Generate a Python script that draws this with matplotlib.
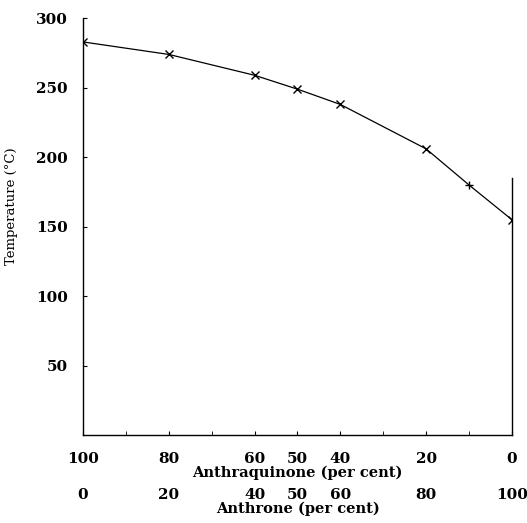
import numpy as np
import matplotlib.pyplot as plt

# datos
anthraquinone = [100, 80, 60, 50, 40, 20, 10, 0]
temperature = [283, 274, 259, 249, 238, 206, 180, 155]
markers = ["x", "x", "x", "x", "x", "x", "+", "x"]

x_ticks = [100, 80, 60, 50, 40, 20, 0]
y_ticks = [50, 100, 150, 200, 250, 300]

plt.rcParams["font.family"] = ["DejaVu Serif"]
plt.rcParams["font.weight"] = "bold"
plt.rcParams["axes.labelweight"] = "bold"

fig = plt.figure(figsize=(5.27, 5.23), dpi=100)
ax = fig.add_axes([0.1575, 0.168, 0.814, 0.797])

ax.plot(anthraquinone, temperature, color="black", lw=0.9)
for xv, yv, m in zip(anthraquinone, temperature, markers):
    ax.plot(xv, yv, marker=m, color="black", ms=6, mew=1.0, ls="none")

ax.set_xlim(100, 0)
ax.set_ylim(0, 300)

ax.spines["top"].set_visible(False)
ax.spines["right"].set_bounds(0, 185)
for s in ["left", "right", "bottom"]:
    ax.spines[s].set_linewidth(1.0)

ax.set_yticks(y_ticks)
ax.set_yticklabels([str(v) for v in y_ticks], fontsize=11)
ax.tick_params(axis="y", direction="in", length=3, pad=11)

ax.set_xticks(x_ticks)
ax.set_xticklabels([str(v) for v in x_ticks], fontsize=11)
ax.set_xticks([90, 70, 30, 10], minor=True)
ax.tick_params(axis="x", which="both", direction="in", length=3, pad=12)
ax.set_xlabel("Anthraquinone (per cent)", fontsize=10.5, labelpad=0)

sec = ax.secondary_xaxis("bottom", functions=(lambda x: 100 - x, lambda x: 100 - x))
sec.spines["bottom"].set_position(("outward", 26))
sec.spines["bottom"].set_visible(False)
sec.set_xticks([100 - v for v in x_ticks])
sec.set_xticklabels([str(100 - v) for v in x_ticks], fontsize=11)
sec.tick_params(axis="x", length=0, pad=12)
sec.set_xlabel("Anthrone (per cent)", fontsize=10.5, labelpad=0)

ax.set_ylabel("Temperature (°C)", fontsize=9.5, fontweight="normal")
ax.yaxis.set_label_coords(-0.152, 0.549)

fig.savefig("out.png", dpi=100)
